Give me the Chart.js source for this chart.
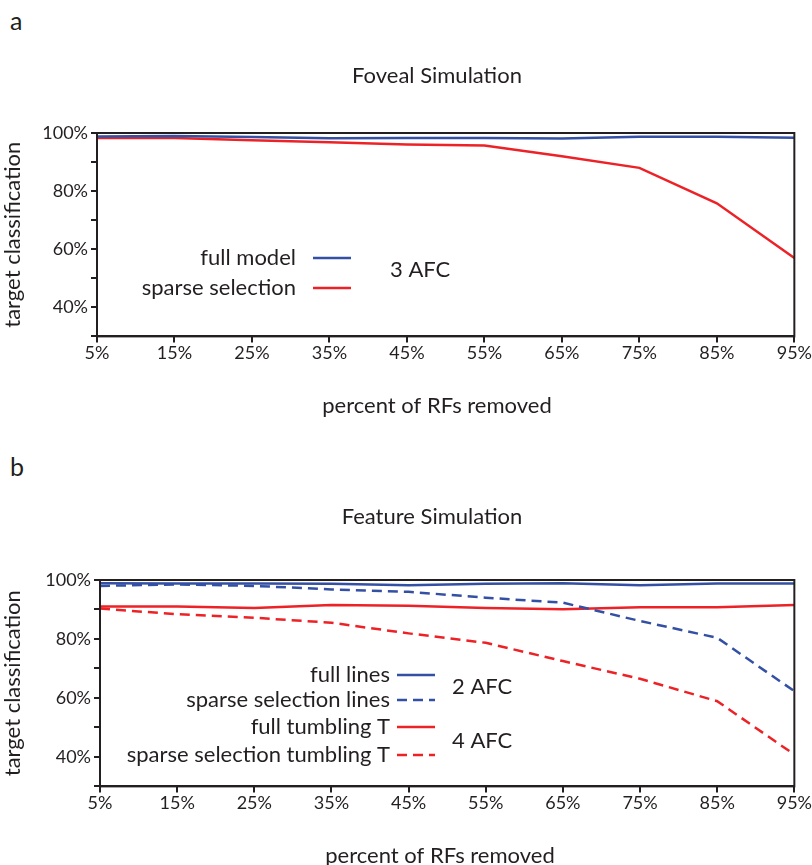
<!DOCTYPE html>
<html>
<head>
<meta charset="utf-8">
<script src="https://cdn.jsdelivr.net/npm/chart.js@4"></script>
<style>
  body { margin: 0; background: #fff; font-family: Lato, sans-serif; overflow: hidden; }
  #wrap { position: relative; width: 812px; height: 865px; overflow: hidden; }
  .panel { position: absolute; left: 0; width: 812px; }
  .letter { position: absolute; left: 10px; font-size: 25px; color: #231f20; }
</style>
</head>
<body>
<div id="wrap">
  <div class="letter" style="top:5px">a</div>
  <div class="panel" style="top:0; height:430px"><canvas id="graficoA" width="812" height="430"></canvas></div>
  <div class="letter" style="top:451px">b</div>
  <div class="panel" style="top:445px; height:429px"><canvas id="graficoB" width="812" height="429"></canvas></div>
</div>
<script>
// eixo x: porcentagem de RFs removidos
const removidos = ['5%', '15%', '25%', '35%', '45%', '55%', '65%', '75%', '85%', '95%'];

// painel a - simulação foveal (3 AFC)
const fullModel = [98.8, 99.0, 98.6, 98.2, 98.3, 98.3, 98.1, 98.7, 98.7, 98.4];
const sparseSelection = [98.3, 98.3, 97.5, 96.8, 96.0, 95.7, 92.0, 88.0, 75.8, 57.0];

// painel b - simulação de features (2 AFC linhas, 4 AFC T)
const fullLines = [98.9, 98.8, 98.8, 98.7, 98.2, 98.7, 98.9, 98.2, 98.8, 98.8];
const sparseLines = [98.0, 98.5, 98.0, 96.8, 96.0, 94.0, 92.3, 86.1, 80.4, 62.3];
const fullTumbling = [91.0, 91.0, 90.5, 91.5, 91.3, 90.5, 90.1, 90.8, 90.8, 91.5];
const sparseTumbling = [90.3, 88.4, 87.2, 85.5, 81.9, 78.7, 72.5, 66.5, 58.9, 40.8];

const yTicks = [40, 60, 80, 100];

const AZUL = '#3450a4';
const VERMELHO = '#ed2227';
const PRETO = '#231f20';
const FONTE = 'Lato';

// moldura em volta da área do gráfico + títulos (gráfico e eixo x)
const moldura = {
    id: 'moldura',
    afterDraw(chart, args, opts) {
        const a = chart.chartArea;
        const ctx = chart.ctx;
        ctx.save();
        ctx.strokeStyle = PRETO;
        ctx.lineWidth = 2;
        ctx.strokeRect(a.left, a.top, a.right - a.left, a.bottom - a.top);
        ctx.fillStyle = PRETO;
        ctx.textAlign = 'center';
        ctx.textBaseline = 'middle';
        ctx.font = '22px ' + FONTE;
        ctx.fillText(opts.titulo, a.left + opts.centro, a.top - opts.acima);
        ctx.fillText('percent of RFs removed', a.left + 340, a.bottom + 70);
        ctx.restore();
    }
};

// legenda dentro do gráfico: texto alinhado à direita + amostra da linha
const legendaInterna = {
    id: 'legendaInterna',
    afterDatasetsDraw(chart, args, opts) {
        const ctx = chart.ctx;
        const a = chart.chartArea;
        ctx.save();
        ctx.font = '22px ' + FONTE;
        ctx.textBaseline = 'middle';
        chart.data.datasets.forEach((ds, i) => {
            const y = a.top + opts.linhas[i];
            ctx.fillStyle = PRETO;
            ctx.textAlign = 'right';
            ctx.fillText(ds.label, a.left + opts.fimTexto, y);
            ctx.strokeStyle = ds.borderColor;
            ctx.lineWidth = 2.5;
            ctx.setLineDash(ds.borderDash || []);
            ctx.beginPath();
            ctx.moveTo(a.left + opts.fimTexto + opts.espaco, y);
            ctx.lineTo(a.left + opts.fimTexto + opts.amostra, y);
            ctx.stroke();
        });
        ctx.setLineDash([]);
        ctx.textAlign = 'left';
        ctx.fillStyle = PRETO;
        opts.grupos.forEach(g => ctx.fillText(g.texto, a.left + g.x, a.top + g.y));
        ctx.restore();
    }
};

function serie(label, data, cor, tracejado) {
    return {
        label: label,
        data: data,
        borderColor: cor,
        backgroundColor: cor,
        borderWidth: 2.5,
        borderDash: tracejado ? [10, 6] : [],
        pointRadius: 0,
        tension: 0,
        fill: false
    };
}

function criarGrafico(id, titulo, datasets, legenda, caixa) {
    const config = {
        type: 'line',
        data: { labels: removidos, datasets: datasets },
        options: {
            responsive: false,
            animation: false,
            layout: { padding: { left: 0, right: 13, top: caixa.topo, bottom: caixa.baixo } },
            plugins: {
                legend: { display: false },
                tooltip: { enabled: false },
                title: { display: false },
                moldura: { titulo: titulo, centro: caixa.centroTitulo, acima: caixa.acima },
                legendaInterna: legenda
            },
            scales: {
                x: {
                    offset: false,
                    grid: { display: true, drawOnChartArea: false, drawTicks: true, tickLength: 6, color: PRETO, lineWidth: 2 },
                    border: { display: true, color: PRETO, width: 2 },
                    ticks: { color: PRETO, font: { family: FONTE, size: 18 }, padding: 0, maxRotation: 0, autoSkip: false }
                },
                y: {
                    min: 30,
                    max: 100,
                    grid: { display: true, drawOnChartArea: false, drawTicks: true, tickLength: 6, color: PRETO, lineWidth: 2 },
                    border: { display: true, color: PRETO, width: 2 },
                    ticks: {
                        stepSize: 10,
                        color: PRETO,
                        padding: 3,
                        font: { family: FONTE, size: 18 },
                        callback: v => yTicks.includes(v) ? v + '%' : ''
                    },
                    title: {
                        display: true,
                        text: 'target classification',
                        color: PRETO,
                        font: { family: FONTE, size: 22 },
                        padding: { top: 0, bottom: 2 }
                    },
                    afterFit: s => { s.width = caixa.esquerda; }
                }
            }
        },
        plugins: [moldura, legendaInterna]
    };
    const ctx = document.getElementById(id).getContext('2d');
    return new Chart(ctx, config);
}

criarGrafico('graficoA', 'Foveal Simulation', [
    serie('full model', fullModel, AZUL, false),
    serie('sparse selection', sparseSelection, VERMELHO, false)
], {
    fimTexto: 199, espaco: 17, amostra: 55,
    linhas: [125, 155],
    grupos: [{ texto: '3 AFC', x: 293, y: 137 }]
}, { esquerda: 97, topo: 133, baixo: 66, centroTitulo: 340, acima: 57 });

criarGrafico('graficoB', 'Feature Simulation', [
    serie('full lines', fullLines, AZUL, false),
    serie('sparse selection lines', sparseLines, AZUL, true),
    serie('full tumbling T', fullTumbling, VERMELHO, false),
    serie('sparse selection tumbling T', sparseTumbling, VERMELHO, true)
], {
    fimTexto: 290, espaco: 7, amostra: 45,
    linhas: [95, 120, 147, 175],
    grupos: [{ texto: '2 AFC', x: 352, y: 107 }, { texto: '4 AFC', x: 352, y: 161 }]
}, { esquerda: 100, topo: 135, baixo: 60, centroTitulo: 332, acima: 63 });
</script>
</body>
</html>
